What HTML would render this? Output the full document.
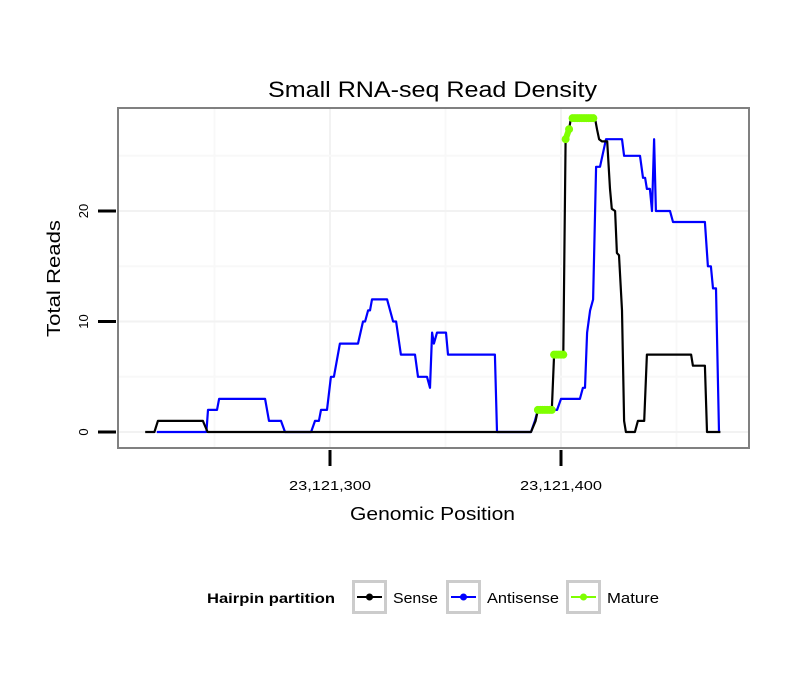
<!DOCTYPE html>
<html><head><meta charset="utf-8"><style>
body{margin:0;background:#fff;}
svg{display:block;font-family:"Liberation Sans",sans-serif;}
</style></head><body>
<svg id="chart" width="810" height="690" viewBox="0 0 810 690">
<rect x="0" y="0" width="810" height="690" fill="#fff"/>
<text x="268" y="97" font-size="22" textLength="329" lengthAdjust="spacingAndGlyphs">Small RNA-seq Read Density</text>
<g id="grid"></g>
<g id="series"></g>
<rect x="118" y="108" width="631" height="340" fill="none" stroke="#808080" stroke-width="2"/>
<g id="axes"></g>
<text x="350" y="520" font-size="18" textLength="165" lengthAdjust="spacingAndGlyphs">Genomic Position</text>
<text transform="translate(60,337) rotate(-90)" font-size="18" textLength="117" lengthAdjust="spacingAndGlyphs">Total Reads</text>
<g>
<text x="207" y="603" font-size="14" font-weight="bold" textLength="128" lengthAdjust="spacingAndGlyphs">Hairpin partition</text>
<g>
<rect x="353.5" y="581.5" width="32" height="31" fill="#fff" stroke="#ccc" stroke-width="3"/>
<line x1="357" y1="597" x2="382" y2="597" stroke="#000" stroke-width="2"/><circle cx="369.5" cy="597" r="3.5" fill="#000"/>
<text x="393" y="603" font-size="15" textLength="45" lengthAdjust="spacingAndGlyphs">Sense</text></g>
<g>
<rect x="447.5" y="581.5" width="32" height="31" fill="#fff" stroke="#ccc" stroke-width="3"/>
<line x1="451" y1="597" x2="476" y2="597" stroke="#0000ff" stroke-width="2"/><circle cx="463.5" cy="597" r="3.5" fill="#0000ff"/>
<text x="487" y="603" font-size="15" textLength="72" lengthAdjust="spacingAndGlyphs">Antisense</text></g>
<g>
<rect x="567.5" y="581.5" width="32" height="31" fill="#fff" stroke="#ccc" stroke-width="3"/>
<line x1="571" y1="597" x2="596" y2="597" stroke="#7fff00" stroke-width="2"/><circle cx="583.5" cy="597" r="3.5" fill="#7fff00"/>
<text x="607" y="603" font-size="15" textLength="52" lengthAdjust="spacingAndGlyphs">Mature</text></g>
</g>
</svg>
<script>
// positions are offsets from 23,121,000
const xTicks = [300, 400];
const xTickLabels = ["23,121,300", "23,121,400"];
const yTicks = [0, 10, 20];
const yTickLabels = ["0", "10", "20"];
const senseX = [220,224,225.5,245,247,387,389,390,396,397,401,402,403.5,404.3,414.7,415.6,416.5,417.7,420,421.2,422,423.4,424.2,425.1,426.4,427.3,428.1,432,433.3,436,437.2,456.3,457.1,462.3,463.2,469];
const senseY = [0,0,1,1,0,0,1,2,2,7,7,26.5,27.4,28.4,28.4,27.4,26.5,26.3,26.3,22,20.2,20,16.2,16,11,1,0,0,1,1,7,7,6,6,0,0];
const antiX = [225,246.5,247.2,251.1,252,271.9,273.6,278.8,280.5,291.8,293.5,295.2,296.1,298.7,300.4,301.7,304.3,312.1,314.3,315.2,316.5,317.3,318.2,324.7,327.3,328.6,330.7,336.8,338.1,342,343.3,344.2,345,346.3,350.2,351.1,371.4,372.3,387,388.7,390,398.3,400,408.2,409.5,410.4,411.3,412.6,413.9,415.2,416.9,419.5,426.4,427.3,434.2,435.5,436.4,437.2,438.5,439.4,440.3,441.1,447.2,448.5,462.3,463.6,464.9,465.8,467.1,468.4];
const antiY = [0,0,2,2,3,3,1,1,0,0,1,1,2,2,5,5,8,8,10,10,11,11,12,12,10,10,7,7,5,5,4,9,8,9,9,7,7,0,0,1,2,2,3,3,4,4,9,11,12,24,24,26.5,26.5,25,25,23,23,22,22,20,26.5,20,20,19,19,15,15,13,13,0];
const matureX = [390,391,392,393,394,395,396,null,397,398,399,400,401,null,402,403.5,null,405,406,407,408,409,410,411,412,413,414];
const matureY = [2,2,2,2,2,2,2,null,7,7,7,7,7,null,26.5,27.4,null,28.4,28.4,28.4,28.4,28.4,28.4,28.4,28.4,28.4,28.4];

const NS="http://www.w3.org/2000/svg";
const X0=330, XPX=2.31, Y0=432, YPX=11.05;
function xs(v){return X0+(v-300)*XPX;}
function ys(v){return Y0-v*YPX;}
function mk(tag,attrs,parent){const e=document.createElementNS(NS,tag);for(const k in attrs)e.setAttribute(k,attrs[k]);parent.appendChild(e);return e;}
const grid=document.getElementById('grid'), axes=document.getElementById('axes'), ser=document.getElementById('series');
for(let v=250; v<=450; v+=50){
  const l=mk('line',{x1:xs(v),x2:xs(v),y1:109,y2:447,stroke:(v%100===0)?'#f2f2f2':'#f8f8f8','stroke-width':2},grid);
  
  
}
for(let v=0; v<=25; v+=5){
  const l=mk('line',{x1:119,x2:748,y1:ys(v),y2:ys(v),stroke:(v%10===0)?'#f2f2f2':'#f8f8f8','stroke-width':2},grid);
  
  
}
xTicks.forEach((v,i)=>{
  const t=mk('line',{x1:xs(v),x2:xs(v),y1:450,y2:466,stroke:'#000','stroke-width':3},axes);
  
  
  const tx=mk('text',{x:xs(v)-41,y:490,'font-size':13,textLength:82,lengthAdjust:'spacingAndGlyphs'},axes);
  tx.textContent=xTickLabels[i];
  
  
});
yTicks.forEach((v,i)=>{
  const t=mk('line',{x1:98,x2:116,y1:ys(v),y2:ys(v),stroke:'#000','stroke-width':3},axes);
  
  
  const tx=mk('text',{transform:`translate(88,${ys(v)}) rotate(-90)`,'font-size':13,'text-anchor':'middle'},axes);
  tx.textContent=yTickLabels[i];
  
  
});
function pathD(xa,ya){let d='',pen=false;for(let i=0;i<xa.length;i++){if(xa[i]===null){pen=false;continue;}d+=(pen?'L':'M')+xs(xa[i]).toFixed(1)+' '+ys(ya[i]).toFixed(1)+' ';pen=true;}return d;}
const pa=mk('path',{d:pathD(antiX,antiY),fill:'none',stroke:'#0000ff','stroke-width':2.2,'stroke-linejoin':'round'},ser);


const ps=mk('path',{d:pathD(senseX,senseY),fill:'none',stroke:'#000','stroke-width':2.2,'stroke-linejoin':'round'},ser);


const pm=mk('path',{d:pathD(matureX,matureY),fill:'none',stroke:'#7fff00','stroke-width':6,'stroke-linecap':'round'},ser);


matureX.forEach((v,i)=>{
  if(v===null)return;
  const c=mk('circle',{cx:xs(v),cy:ys(matureY[i]),r:4,fill:'#7fff00'},ser);
  
  
});
</script>
</body></html>
